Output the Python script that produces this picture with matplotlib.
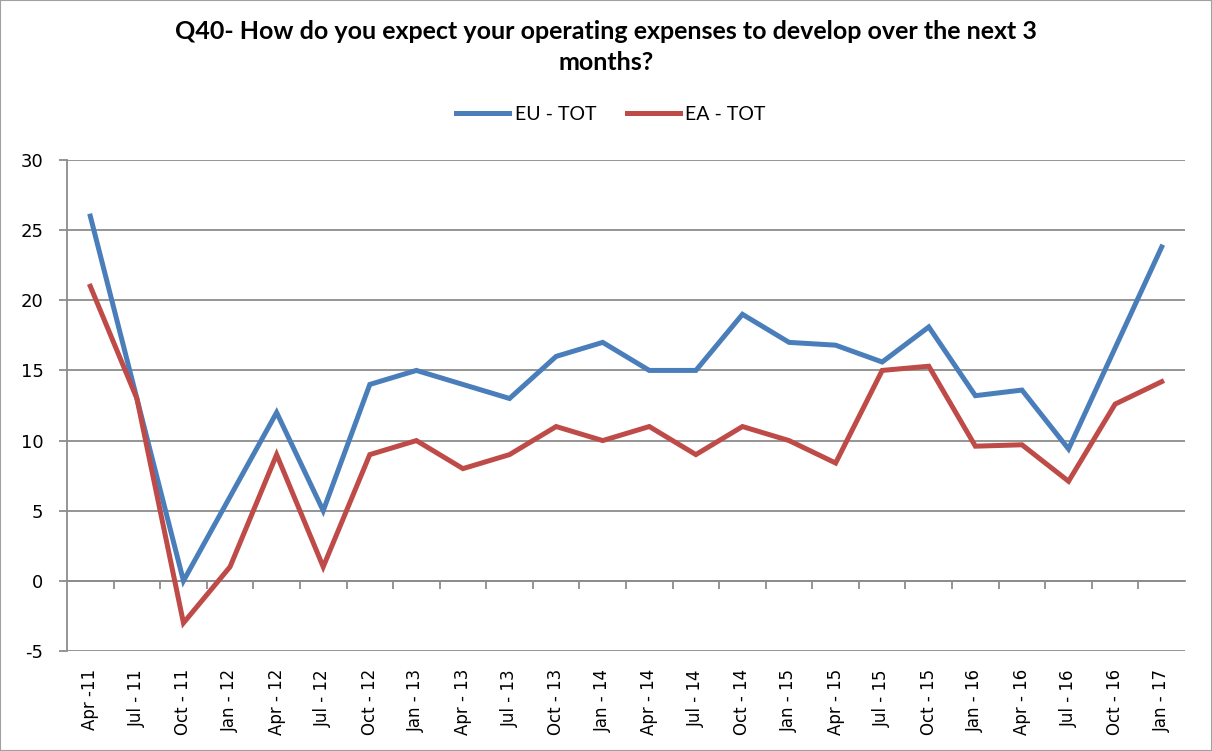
import matplotlib
matplotlib.use("Agg")
import matplotlib.pyplot as plt
from matplotlib.patches import Rectangle

quarters = ['Apr -11', 'Jul - 11', 'Oct - 11', 'Jan - 12', 'Apr - 12', 'Jul - 12',
            'Oct - 12', 'Jan - 13', 'Apr - 13', 'Jul - 13', 'Oct - 13', 'Jan - 14',
            'Apr - 14', 'Jul - 14', 'Oct - 14', 'Jan - 15', 'Apr - 15', 'Jul - 15',
            'Oct - 15', 'Jan - 16', 'Apr - 16', 'Jul - 16', 'Oct - 16', 'Jan - 17']
eu_tot = [26, 13, 0, 6, 12, 5, 14, 15, 14, 13, 16, 17,
          15, 15, 19, 17, 16.8, 15.6, 18.1, 13.2, 13.6, 9.4, 16.6, 23.8]
ea_tot = [21, 13, -3, 1, 9, 1, 9, 10, 8, 9, 11, 10,
          11, 9, 11, 10, 8.4, 15, 15.3, 9.6, 9.7, 7.1, 12.6, 14.2]
y_ticks = [-5, 0, 5, 10, 15, 20, 25, 30]

narrow = ['Lato', 'DejaVu Sans']
grid_col = '#8c8c8c'

fig = plt.figure(figsize=(12.12, 7.51), dpi=100)
ax = fig.add_axes([67 / 1212, 1 - 651 / 751, (1185 - 67) / 1212, (651 - 160) / 751])

x = list(range(len(quarters)))
ax.plot(x, eu_tot, color='#4a7ebb', lw=3.6, label='EU - TOT', solid_joinstyle='miter')
ax.plot(x, ea_tot, color='#be4b48', lw=3.6, label='EA - TOT', solid_joinstyle='miter')

ax.set_xlim(-0.5, len(quarters) - 0.5)
ax.set_ylim(-5, 30)
ax.set_yticks(y_ticks)
ax.set_yticklabels([str(v) for v in y_ticks], fontsize=13)
ax.yaxis.grid(True, color=grid_col, lw=1.3)
ax.set_axisbelow(True)
ax.tick_params(axis='y', length=6, color=grid_col, width=1.3, pad=11)

ax.set_xticks(x)
ax.set_xticklabels(quarters, rotation=90, fontsize=12)
ax.tick_params(axis='x', length=0, pad=13)

for side in ['top', 'right', 'bottom']:
    ax.spines[side].set_visible(False)
ax.spines['left'].set_color(grid_col)
ax.spines['left'].set_linewidth(1.3)

# category axis crossing at zero, ticks between categories
zero_frac = (0 - (-5)) / 35
sec = ax.secondary_xaxis(zero_frac)
sec.set_xticks([i + 0.5 for i in x[:-1]])
sec.set_xticklabels([])
sec.tick_params(length=6, color=grid_col, width=1.3, direction='out')
sec.spines['bottom'].set_color(grid_col)
sec.spines['bottom'].set_linewidth(1.3)

fig.text(0.5, 1 - 47 / 751, 'Q40- How do you expect your operating expenses to develop over the next 3\nmonths?',
         ha='center', va='center', fontsize=18, fontweight='bold', family=narrow, linespacing=1.45)

fig.legend(loc='center', bbox_to_anchor=(611 / 1212, 1 - 114 / 751), ncol=2, frameon=False,
           prop={'family': narrow, 'size': 14}, handlelength=2.7, columnspacing=1.6, handletextpad=0.3)

fig.patches.append(Rectangle((0, 0), 1, 1, transform=fig.transFigure, fill=False,
                             edgecolor='#a0a0a0', lw=1.5))

fig.savefig('out.png', dpi=100)
